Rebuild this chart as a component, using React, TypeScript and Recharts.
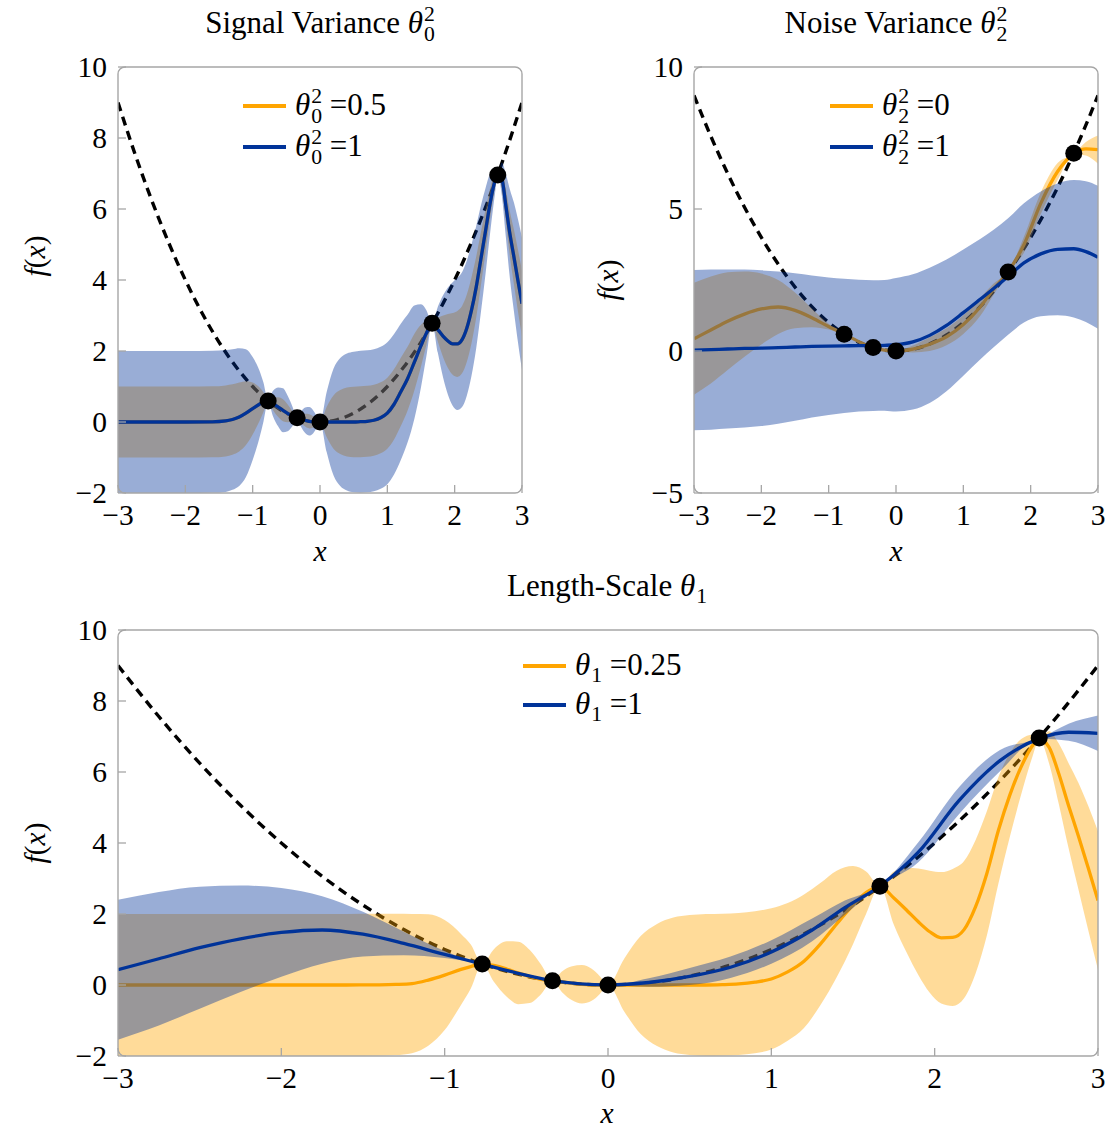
import React from 'react';
import { ComposedChart, Line, Area, Scatter, XAxis, YAxis, ReferenceArea } from 'recharts';

// fine grid for the short length-scale posteriors (includes the observed inputs)
const fineX = [
  -3, -2.5, -2, -1.6, -1.4, -1.3, -1.2, -1.1, -1.0, -0.9,
  -0.84, -0.77, -0.7, -0.62, -0.55, -0.48, -0.41, -0.34, -0.28, -0.22,
  -0.16, -0.1, -0.05, 0, 0.1, 0.2, 0.3, 0.4, 0.5, 0.6,
  0.7, 0.8, 0.9, 1.0, 1.1, 1.2, 1.3, 1.4, 1.5, 1.58,
  1.665, 1.75, 1.83, 1.9, 1.97, 2.04, 2.11, 2.18, 2.25, 2.32,
  2.39, 2.46, 2.53, 2.6, 2.64, 2.7, 2.76, 2.82, 2.88, 2.94,
  3.0,
];

// signal variance panel (shared mean, two band widths)
const sigMean = [
  0, 0, 0, 0.005, 0.03, 0.07, 0.14, 0.25, 0.38, 0.5,
  0.56, 0.59, 0.52, 0.42, 0.33, 0.24, 0.16, 0.11, 0.08, 0.05,
  0.02, 0.005, 0, 0, 0, 0, 0, 0, 0, 0.01,
  0.02, 0.05, 0.12, 0.25, 0.5, 0.85, 1.22, 1.68, 2.15, 2.5,
  2.77, 2.6, 2.41, 2.28, 2.2, 2.2, 2.32, 2.64, 3.15, 3.8,
  4.6, 5.4, 6.2, 6.8, 6.96, 6.85, 6.1, 5.3, 4.65, 3.98,
  3.33,
];
const sigSpreadOne = [
  2, 2, 2, 2, 2, 1.98, 1.94, 1.8, 1.45, 0.95,
  0.55, 0, 0.35, 0.55, 0.62, 0.5, 0.28, 0, 0.22, 0.36,
  0.4, 0.32, 0.17, 0, 0.85, 1.5, 1.8, 1.93, 1.98, 2,
  2, 2, 2, 2, 1.98, 1.92, 1.8, 1.6, 1.17, 0.65,
  0, 0.65, 1.17, 1.51, 1.74, 1.86, 1.9, 1.9, 1.85, 1.72,
  1.5, 1.2, 0.82, 0.35, 0, 0.46, 0.89, 1.25, 1.53, 1.73,
  1.86,
];
const sigSpreadHalf = [
  1, 1, 1, 1, 1, 0.99, 0.97, 0.9, 0.73, 0.48,
  0.28, 0, 0.18, 0.28, 0.31, 0.25, 0.14, 0, 0.11, 0.18,
  0.2, 0.16, 0.09, 0, 0.43, 0.75, 0.9, 0.97, 0.99, 1,
  1, 1, 1, 1, 0.99, 0.96, 0.9, 0.8, 0.59, 0.33,
  0, 0.33, 0.59, 0.76, 0.87, 0.93, 0.95, 0.95, 0.93, 0.86,
  0.75, 0.6, 0.41, 0.18, 0, 0.23, 0.45, 0.63, 0.77, 0.87,
  0.93,
];

// length-scale 0.25
const shortMean = [
  0, 0, 0, 0, 0.005, 0.015, 0.04, 0.14, 0.28, 0.44,
  0.52, 0.59, 0.55, 0.45, 0.34, 0.24, 0.16, 0.12, 0.09, 0.05,
  0.02, 0.005, 0, 0, 0, 0, 0, 0, 0, 0,
  0.01, 0.03, 0.08, 0.17, 0.37, 0.67, 1.15, 1.72, 2.25, 2.6,
  2.78, 2.45, 2.1, 1.78, 1.5, 1.33, 1.34, 1.56, 2.2, 3.15,
  4.35, 5.35, 6.15, 6.75, 6.93, 6.7, 5.95, 5.05, 4.2, 3.3,
  2.38,
];
const shortSpread = [
  2, 2, 2, 2, 2, 1.99, 1.96, 1.85, 1.55, 1.0,
  0.62, 0, 0.45, 0.78, 0.88, 0.75, 0.42, 0, 0.3, 0.48,
  0.54, 0.45, 0.25, 0, 0.75, 1.38, 1.72, 1.9, 1.97, 2,
  2, 2, 2, 1.99, 1.94, 1.88, 1.72, 1.5, 1.1, 0.6,
  0, 0.75, 1.2, 1.5, 1.72, 1.85, 1.93, 1.93, 1.88, 1.75,
  1.5, 1.18, 0.78, 0.3, 0, 0.45, 0.85, 1.2, 1.5, 1.75,
  1.95,
];

// coarser grid for the smooth posteriors
const smoothX = [
  -3, -2.75, -2.5, -2.25, -2, -1.75, -1.5, -1.25, -1, -0.77,
  -0.55, -0.34, -0.17, 0, 0.25, 0.5, 0.75, 1, 1.25, 1.45,
  1.665, 1.9, 2.15, 2.4, 2.64, 2.82, 3,
];
// length-scale 1, no noise
const longMean = [
  0.43, 0.74, 1.05, 1.3, 1.48, 1.55, 1.43, 1.17, 0.86, 0.59,
  0.33, 0.12, 0.03, 0, 0.07, 0.24, 0.5, 0.93, 1.55, 2.18,
  2.79, 3.74, 5.2, 6.32, 6.94, 7.12, 7.09,
];
const longSpread = [
  1.97, 1.88, 1.72, 1.5, 1.25, 0.95, 0.63, 0.33, 0.1, 0,
  0.02, 0, 0.01, 0, 0.12, 0.24, 0.3, 0.33, 0.32, 0.2,
  0, 0.28, 0.38, 0.3, 0, 0.24, 0.5,
];
// noise variance 1
const noisyMean = [
  0.03, 0.05, 0.07, 0.09, 0.1, 0.12, 0.14, 0.16, 0.17, 0.18,
  0.19, 0.19, 0.2, 0.22, 0.32, 0.55, 0.9, 1.35, 1.82, 2.2,
  2.62, 3.1, 3.42, 3.58, 3.6, 3.5, 3.3,
];
const noisySpread = [
  2.82, 2.82, 2.8, 2.78, 2.74, 2.68, 2.6, 2.5, 2.42, 2.36,
  2.32, 2.3, 2.3, 2.35, 2.38, 2.38, 2.32, 2.22, 2.12, 2.07,
  2.05, 2.1, 2.2, 2.32, 2.42, 2.48, 2.52,
];

// true function
const truthX = [
  -3, -2.75, -2.5, -2.25, -2, -1.75, -1.5, -1.25, -1, -0.75, -0.5, -0.25, 0,
  0.25, 0.5, 0.75, 1, 1.25, 1.5, 1.75, 2, 2.25, 2.5, 2.75, 3,
];
const truthY = [
  9, 7.5625, 6.25, 5.0625, 4, 3.0625, 2.25, 1.5625, 1, 0.5625, 0.25, 0.0625, 0,
  0.0625, 0.25, 0.5625, 1, 1.5625, 2.25, 3.0625, 4, 5.0625, 6.25, 7.5625, 9,
];

// observations
const obsX = [-0.77, -0.34, 0, 1.665, 2.64];
const obsY = [0.59, 0.12, 0, 2.78, 6.96];

const xTicks = [-3, -2, -1, 0, 1, 2, 3];
const yTicksMain = [-2, 0, 2, 4, 6, 8, 10];
const yTicksNoise = [-5, 0, 5, 10];

const ORANGE = '#ffa500';
const BLUE = '#003399';
const FRAME = '#a6a6a6';
const FONT = "'Liberation Serif', 'Times New Roman', serif";
const TICK_SIZE = 29.5;
const TEXT_SIZE = 31;

const band = (m: number, s: number) => [m - s, m + s];

const fineRows = fineX.map((x, i) => ({
  x,
  sigMean: sigMean[i],
  sigOne: band(sigMean[i], sigSpreadOne[i]),
  sigHalf: band(sigMean[i], sigSpreadHalf[i]),
  shortMean: shortMean[i],
  shortBand: band(shortMean[i], shortSpread[i]),
}));
const smoothRows = smoothX.map((x, i) => ({
  x,
  longMean: longMean[i],
  longBand: band(longMean[i], longSpread[i]),
  noisyMean: noisyMean[i],
  noisyBand: band(noisyMean[i], noisySpread[i]),
}));
const truthRows = truthX.map((x, i) => ({ x, y: truthY[i] }));
const obsRows = obsX.map((x, i) => ({ x, y: obsY[i] }));

const fmt = (v: number) => (v < 0 ? '\u2212' + Math.abs(v) : String(v));

const XTick = (p: any) => (
  <text x={p.x} y={p.y} dy={TICK_SIZE * 0.72} textAnchor="middle" fill="#000"
    style={{ fontFamily: FONT, fontSize: TICK_SIZE }}>
    {fmt(p.payload.value)}
  </text>
);
const YTick = (p: any) => (
  <text x={p.x} y={p.y} dy={TICK_SIZE * 0.34} textAnchor="end" fill="#000"
    style={{ fontFamily: FONT, fontSize: TICK_SIZE }}>
    {fmt(p.payload.value)}
  </text>
);

type Series = { data: any[]; mean: string; band: string };

function Panel(props: {
  left: number; top: number; width: number; height: number;
  margin: { top: number; right: number; bottom: number; left: number };
  yDomain: [number, number]; yTicks: number[];
  orange: Series; blue: Series;
}) {
  const { left, top, width, height, margin, yDomain, yTicks, orange, blue } = props;
  const tickLine = { stroke: FRAME, strokeWidth: 1.3 };
  return (
    <div style={{ position: 'absolute', left, top }}>
      <ComposedChart width={width} height={height} margin={margin}>
        <XAxis dataKey="x" type="number" domain={[-3, 3]} ticks={xTicks} interval={0} allowDataOverflow
          axisLine={false} tickSize={-8} tickMargin={19} tickLine={tickLine} tick={<XTick />} height={40} />
        <YAxis type="number" domain={yDomain} ticks={yTicks} interval={0} allowDataOverflow
          axisLine={false} tickSize={-8} tickMargin={19} tickLine={tickLine} tick={<YTick />} width={60} />
        <XAxis xAxisId="top" orientation="top" mirror type="number" domain={[-3, 3]} ticks={xTicks}
          interval={0} allowDataOverflow axisLine={false} tick={false} tickSize={8} tickLine={tickLine} height={0} />
        <YAxis yAxisId="right" orientation="right" mirror type="number" domain={yDomain} ticks={yTicks}
          interval={0} allowDataOverflow axisLine={false} tick={false} tickSize={8} tickLine={tickLine} width={0} />

        <Line data={truthRows} dataKey="y" type="monotone" stroke="#000" strokeWidth={3.4}
          strokeDasharray="9 6" dot={false} activeDot={false} isAnimationActive={false} zIndex={10} />
        <Line data={orange.data} dataKey={orange.mean} type="monotone" stroke={ORANGE} strokeWidth={3.3}
          dot={false} activeDot={false} isAnimationActive={false} zIndex={20} />
        <Area data={orange.data} dataKey={orange.band} type="monotone" stroke="none" fill={ORANGE}
          fillOpacity={0.4} dot={false} activeDot={false} isAnimationActive={false} zIndex={30} />
        <Area data={blue.data} dataKey={blue.band} type="monotone" stroke="none" fill={BLUE}
          fillOpacity={0.4} dot={false} activeDot={false} isAnimationActive={false} zIndex={40} />
        <Line data={blue.data} dataKey={blue.mean} type="monotone" stroke={BLUE} strokeWidth={3.3}
          dot={false} activeDot={false} isAnimationActive={false} zIndex={50} />
        <Scatter data={obsRows} dataKey="y" isAnimationActive={false} zIndex={60}
          shape={(p: any) => <circle cx={p.cx} cy={p.cy} r={8.5} fill="#000" />} />
        <ReferenceArea x1={-3} x2={3} y1={yDomain[0]} y2={yDomain[1]} ifOverflow="visible" zIndex={70}
          shape={(p: any) => (
            <rect x={p.x} y={p.y} width={p.width} height={p.height} rx={7} ry={7}
              fill="none" stroke={FRAME} strokeWidth={1.4} />
          )} />
      </ComposedChart>
    </div>
  );
}

function Theta({ sub, sup }: { sub: string; sup?: string }) {
  return (
    <span style={{ whiteSpace: 'nowrap' }}>
      <i>θ</i>
      <span style={{ display: 'inline-block', fontSize: '0.7em', lineHeight: '20px',
        verticalAlign: sup ? '-8px' : '-7px', marginLeft: 1 }}>
        {sup && <span style={{ display: 'block' }}>{sup}</span>}
        <span style={{ display: 'block' }}>{sub}</span>
      </span>
    </span>
  );
}

function Text(props: { x: number; y: number; size?: number; rotate?: boolean; children: React.ReactNode }) {
  return (
    <div style={{
      position: 'absolute', left: props.x, top: props.y, whiteSpace: 'nowrap',
      transform: `translate(-50%, -50%)${props.rotate ? ' rotate(-90deg)' : ''}`,
      fontSize: props.size ?? TEXT_SIZE, fontFamily: FONT, lineHeight: 1,
    }}>
      {props.children}
    </div>
  );
}

function LegendRow(props: { x: number; y: number; color: string; children: React.ReactNode }) {
  return (
    <div style={{
      position: 'absolute', left: props.x, top: props.y - 20, height: 40, display: 'flex',
      alignItems: 'center', fontSize: TEXT_SIZE, fontFamily: FONT, whiteSpace: 'nowrap',
    }}>
      <div style={{ width: 43, height: 3.5, background: props.color, marginRight: 9 }} />
      <span>{props.children}</span>
    </div>
  );
}

const FX = () => (<span><i>f</i>(<i>x</i>)</span>);

export default function App() {
  return (
    <div style={{ position: 'absolute', left: 0, top: 0, width: 1111, height: 1128, background: '#fff', fontFamily: FONT }}>
      <Panel left={0} top={0} width={560} height={560}
        margin={{ top: 67, right: 38, bottom: 27, left: 58 }}
        yDomain={[-2, 10]} yTicks={yTicksMain}
        orange={{ data: fineRows, mean: 'sigMean', band: 'sigHalf' }}
        blue={{ data: fineRows, mean: 'sigMean', band: 'sigOne' }} />
      <Panel left={560} top={0} width={551} height={560}
        margin={{ top: 67, right: 13, bottom: 27, left: 74 }}
        yDomain={[-5, 10]} yTicks={yTicksNoise}
        orange={{ data: smoothRows, mean: 'longMean', band: 'longBand' }}
        blue={{ data: smoothRows, mean: 'noisyMean', band: 'noisyBand' }} />
      <Panel left={0} top={560} width={1111} height={568}
        margin={{ top: 70, right: 13, bottom: 32, left: 58 }}
        yDomain={[-2, 10]} yTicks={yTicksMain}
        orange={{ data: fineRows, mean: 'shortMean', band: 'shortBand' }}
        blue={{ data: smoothRows, mean: 'longMean', band: 'longBand' }} />

      <Text x={320} y={24}>Signal Variance <Theta sup="2" sub="0" /></Text>
      <Text x={896} y={24}>Noise Variance <Theta sup="2" sub="2" /></Text>
      <Text x={607} y={588}>Length-Scale <Theta sub="1" /></Text>

      <Text x={320} y={552} size={TICK_SIZE}><i>x</i></Text>
      <Text x={896} y={552} size={TICK_SIZE}><i>x</i></Text>
      <Text x={607} y={1114} size={TICK_SIZE}><i>x</i></Text>
      <Text x={36} y={256} size={TICK_SIZE} rotate><FX /></Text>
      <Text x={609} y={280} size={TICK_SIZE} rotate><FX /></Text>
      <Text x={36} y={843} size={TICK_SIZE} rotate><FX /></Text>

      <LegendRow x={243} y={106} color={ORANGE}><Theta sup="2" sub="0" /> =0.5</LegendRow>
      <LegendRow x={243} y={147} color={BLUE}><Theta sup="2" sub="0" /> =1</LegendRow>
      <LegendRow x={830} y={106} color={ORANGE}><Theta sup="2" sub="2" /> =0</LegendRow>
      <LegendRow x={830} y={147} color={BLUE}><Theta sup="2" sub="2" /> =1</LegendRow>
      <LegendRow x={523} y={666} color={ORANGE}><Theta sub="1" /> =0.25</LegendRow>
      <LegendRow x={523} y={705} color={BLUE}><Theta sub="1" /> =1</LegendRow>
    </div>
  );
}
